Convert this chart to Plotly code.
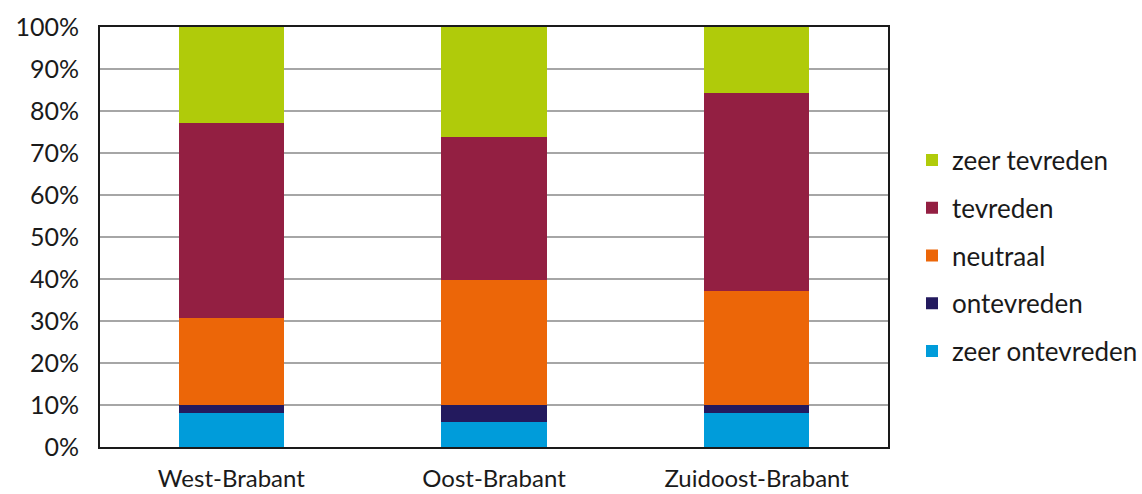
import plotly.graph_objects as go

regions = ["West-Brabant", "Oost-Brabant", "Zuidoost-Brabant"]

# share of respondents per answer (%), stacked bottom to top
zeer_ontevreden = [8.0, 6.0, 8.0]
ontevreden = [2.0, 4.0, 2.0]
neutraal = [20.7, 29.7, 27.1]
tevreden = [46.4, 34.2, 47.1]
zeer_tevreden = [22.9, 26.1, 15.8]

series = [
    ("zeer ontevreden", zeer_ontevreden, "#009CDA"),
    ("ontevreden", ontevreden, "#231A5E"),
    ("neutraal", neutraal, "#EC6608"),
    ("tevreden", tevreden, "#931F42"),
    ("zeer tevreden", zeer_tevreden, "#B0CB0A"),
]

font_family = "Lato, 'DejaVu Sans', sans-serif"

fig = go.Figure()
n = len(series)
for i, (name, vals, color) in enumerate(series):
    fig.add_trace(go.Bar(
        x=regions, y=vals, name=name, legendgroup=name,
        legendrank=n - i,  # top segment listed first
        marker=dict(color=color, line=dict(width=0)),
        width=0.4,
    ))

fig.update_layout(
    barmode="stack",
    width=1142, height=494,
    margin=dict(l=100, r=254, t=27, b=47, autoexpand=False),
    paper_bgcolor="white", plot_bgcolor="white",
    font=dict(family=font_family, size=25, color="#1a1a1a"),
    legend=dict(
        traceorder="grouped",
        tracegroupgap=11,
        xref="container", yref="container",
        x=912 / 1142, xanchor="left",
        y=1 - 256 / 494, yanchor="middle",
        font=dict(size=26),
        itemwidth=30,
    ),
    showlegend=True,
)

fig.update_yaxes(
    range=[0, 100], dtick=10, ticksuffix="%",
    showgrid=True, gridcolor="#a6a6a6", gridwidth=1.5,
    showline=True, linecolor="#1a1a1a", linewidth=2, mirror=True,
    ticks="", ticklabelstandoff=14, zeroline=False, automargin=False,
)
fig.update_xaxes(
    showline=True, linecolor="#1a1a1a", linewidth=2, mirror=True,
    ticks="", ticklabelstandoff=9, automargin=False,
    tickfont=dict(size=24),
)

fig.write_html("out.html")
